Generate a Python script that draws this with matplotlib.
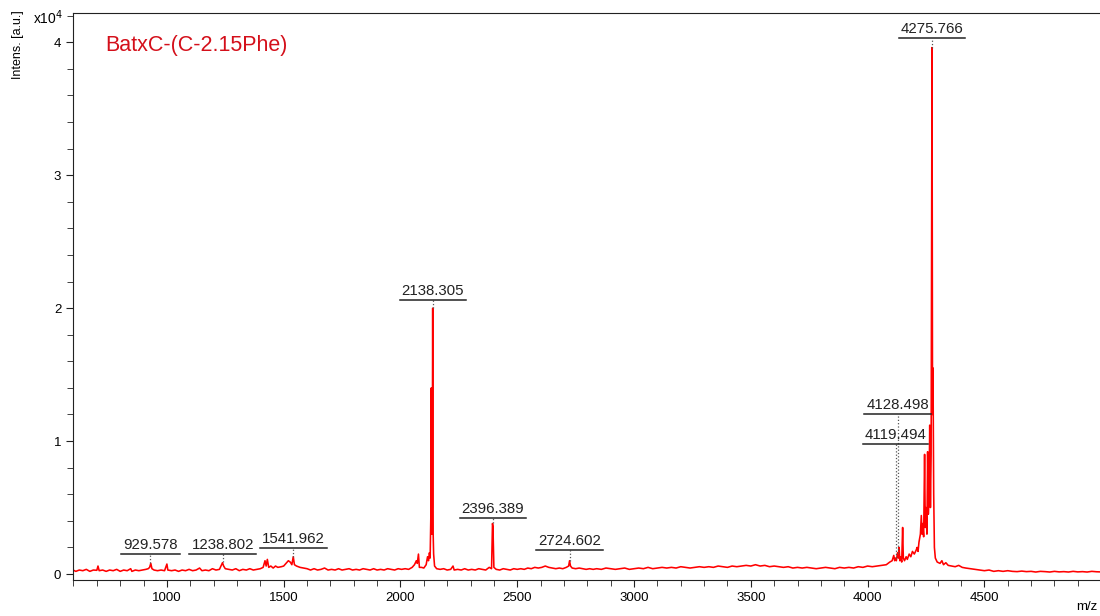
import matplotlib
matplotlib.use("Agg")
import matplotlib.pyplot as plt
from matplotlib.ticker import MultipleLocator

plt.rcParams["font.family"] = ["Liberation Sans", "DejaVu Sans"]

# spectrum trace (m/z, intensity in x10^4 a.u.)
mz = [598, 610, 625, 640, 655, 670, 685, 700, 705, 710, 725, 740, 755, 770, 785, 800,
      815, 830, 845, 850, 865, 880, 895, 910, 920, 926, 931, 936, 945, 960, 975, 990,
      1000, 1004, 1020, 1035, 1050, 1065, 1080, 1095, 1110, 1125, 1140, 1150, 1165, 1180,
      1195, 1210, 1225, 1238, 1243, 1250, 1265, 1280, 1295, 1310, 1325, 1340, 1355, 1370,
      1385, 1400, 1412, 1420, 1425, 1430, 1436, 1445, 1455, 1465, 1475, 1490, 1500, 1510,
      1520, 1528, 1535, 1541, 1546, 1555, 1570, 1585, 1600, 1615, 1630, 1645, 1660, 1675,
      1690, 1705, 1720, 1735, 1750, 1765, 1780, 1795, 1810, 1825, 1840, 1855, 1870, 1885,
      1900, 1915, 1930, 1945, 1960, 1975, 1990, 2005, 2020, 2035, 2050, 2060, 2068, 2072,
      2077, 2081, 2090, 2100, 2110, 2116, 2120, 2124, 2127, 2130, 2132, 2134, 2136, 2138,
      2140, 2142, 2146, 2155, 2170, 2185, 2200, 2215, 2225, 2230, 2245, 2260, 2275, 2290,
      2305, 2320, 2335, 2350, 2365, 2380, 2390, 2394, 2396, 2398, 2400, 2410, 2425, 2440,
      2455, 2470, 2485, 2500, 2515, 2530, 2545, 2560, 2575, 2590, 2605, 2620, 2635, 2650,
      2665, 2680, 2695, 2710, 2720, 2724, 2728, 2735, 2750, 2765, 2780, 2795, 2810, 2825,
      2840, 2860, 2880, 2900, 2920, 2940, 2960, 2980, 3000, 3020, 3040, 3060, 3080, 3100,
      3120, 3140, 3160, 3180, 3200, 3220, 3240, 3260, 3280, 3300, 3320, 3340, 3360, 3380,
      3400, 3420, 3440, 3460, 3480, 3500, 3520, 3540, 3560, 3580, 3600, 3620, 3640, 3660,
      3680, 3700, 3720, 3740, 3760, 3780, 3800, 3820, 3840, 3860, 3880, 3900, 3920, 3940,
      3960, 3980, 4000, 4020, 4040, 4060, 4080, 4095, 4105, 4112, 4116, 4119, 4123, 4128,
      4132, 4135, 4138, 4143, 4146, 4150, 4153, 4158, 4165, 4170, 4178, 4185, 4192, 4200,
      4208, 4212, 4216, 4220, 4226, 4230, 4233, 4236, 4240, 4244, 4247, 4250, 4254, 4257,
      4260, 4263, 4266, 4269, 4272, 4275.8, 4278, 4280, 4283, 4286, 4290, 4298, 4310, 4318,
      4325, 4335, 4345, 4360, 4375, 4390, 4405, 4420, 4440, 4460, 4480, 4500, 4520, 4540,
      4560, 4580, 4600, 4620, 4640, 4660, 4680, 4700, 4720, 4740, 4760, 4780, 4800, 4820,
      4840, 4860, 4880, 4900, 4920, 4940, 4960, 4980, 4995]
intens = [0.03, 0.02, 0.03, 0.025, 0.035, 0.02, 0.03, 0.028, 0.06, 0.025, 0.03, 0.02, 0.03, 0.025, 0.035, 0.02,
          0.03, 0.025, 0.04, 0.02, 0.03, 0.025, 0.03, 0.035, 0.04, 0.05, 0.08, 0.04, 0.03, 0.025, 0.03, 0.025,
          0.075, 0.03, 0.025, 0.03, 0.02, 0.03, 0.025, 0.035, 0.025, 0.03, 0.045, 0.025, 0.03, 0.025,
          0.04, 0.03, 0.035, 0.085, 0.06, 0.04, 0.035, 0.03, 0.04, 0.025, 0.035, 0.03, 0.04, 0.03,
          0.035, 0.04, 0.05, 0.1, 0.06, 0.11, 0.05, 0.06, 0.045, 0.06, 0.05, 0.055, 0.06, 0.08,
          0.1, 0.09, 0.07, 0.13, 0.07, 0.06, 0.05, 0.045, 0.04, 0.03, 0.04, 0.03, 0.035, 0.045,
          0.03, 0.035, 0.03, 0.04, 0.03, 0.035, 0.04, 0.03, 0.035, 0.03, 0.04, 0.035, 0.03, 0.04,
          0.03, 0.035, 0.03, 0.04, 0.035, 0.03, 0.04, 0.035, 0.04, 0.035, 0.05, 0.07, 0.1, 0.08,
          0.15, 0.05, 0.05, 0.045, 0.07, 0.13, 0.1, 0.16, 0.12, 0.43, 1.40, 0.3, 0.5, 2.0,
          0.3, 0.15, 0.06, 0.04, 0.035, 0.04, 0.03, 0.035, 0.06, 0.03, 0.035, 0.03, 0.04, 0.03,
          0.035, 0.03, 0.04, 0.035, 0.03, 0.05, 0.04, 0.38, 0.36, 0.2, 0.05, 0.035, 0.03, 0.04,
          0.035, 0.03, 0.04, 0.035, 0.04, 0.035, 0.045, 0.04, 0.05, 0.045, 0.05, 0.06, 0.05, 0.045,
          0.04, 0.045, 0.04, 0.05, 0.06, 0.1, 0.06, 0.045, 0.04, 0.045, 0.04, 0.035, 0.04, 0.035,
          0.04, 0.035, 0.045, 0.04, 0.035, 0.04, 0.045, 0.035, 0.04, 0.045, 0.04, 0.05, 0.04, 0.045,
          0.05, 0.045, 0.05, 0.045, 0.055, 0.05, 0.045, 0.05, 0.055, 0.05, 0.055, 0.05, 0.06, 0.055,
          0.05, 0.06, 0.055, 0.06, 0.065, 0.06, 0.07, 0.06, 0.065, 0.055, 0.06, 0.055, 0.05, 0.055,
          0.045, 0.05, 0.045, 0.05, 0.045, 0.04, 0.045, 0.05, 0.045, 0.04, 0.05, 0.045, 0.05, 0.045,
          0.055, 0.05, 0.06, 0.055, 0.06, 0.065, 0.07, 0.09, 0.1, 0.14, 0.1, 0.12, 0.1, 0.16,
          0.12, 0.2, 0.1, 0.13, 0.09, 0.35, 0.12, 0.1, 0.13, 0.11, 0.15, 0.13, 0.17, 0.15,
          0.18, 0.2, 0.17, 0.24, 0.3, 0.44, 0.3, 0.38, 0.28, 0.9, 0.35, 0.5, 0.3, 0.92,
          0.45, 0.6, 1.12, 0.5, 0.9, 3.96, 1.2, 1.55, 0.6, 0.2, 0.12, 0.09, 0.08, 0.1,
          0.07, 0.085, 0.065, 0.06, 0.055, 0.065, 0.05, 0.045, 0.04, 0.035, 0.03, 0.025, 0.03, 0.02,
          0.025, 0.02, 0.025, 0.02, 0.018, 0.022, 0.018, 0.02, 0.015, 0.02, 0.018, 0.015, 0.02, 0.016,
          0.018, 0.015, 0.02, 0.016, 0.018, 0.015, 0.02, 0.017, 0.016]

# labelled peaks
peak_mz = [929.578, 1238.802, 1541.962, 2138.305, 2396.389, 2724.602, 4119.494, 4128.498, 4275.766]
peak_top = [0.08, 0.09, 0.13, 2.0, 0.38, 0.1, 0.12, 0.16, 3.96]
label_y = [0.15, 0.15, 0.195, 2.06, 0.42, 0.18, 0.98, 1.20, 4.03]

fig = plt.figure(figsize=(11, 6.16), dpi=100)
ax = fig.add_axes([73 / 1100, 1 - 580 / 616, 1 - 73 / 1100, (580 - 13) / 616])

ax.plot(mz, intens, color="#ff0000", lw=1.15)

ax.set_xlim(598, 4995)
ax.set_ylim(-0.045, 4.22)
ax.xaxis.set_major_locator(MultipleLocator(500))
ax.xaxis.set_minor_locator(MultipleLocator(100))
ax.yaxis.set_major_locator(MultipleLocator(1))
ax.yaxis.set_minor_locator(MultipleLocator(0.2))
ax.tick_params(which="both", direction="out", labelsize=9.5, color="#222")
ax.tick_params(which="major", length=5)
ax.tick_params(which="minor", length=4)
ax.spines["right"].set_visible(False)
for s in ["left", "bottom", "top"]:
    ax.spines[s].set_color("#222")

ax.text(0.031, 0.943, "BatxC-(C-2.15Phe)", transform=ax.transAxes, color="#d40f1a",
        fontsize=15.5, ha="left", va="center")

texts = []
for m, top, lvl in zip(peak_mz, peak_top, label_y):
    ax.plot([m, m], [top, lvl], ls=":", color="#555555", lw=0.9)
    t = ax.annotate(f"{m:.3f}", xy=(m, lvl), xytext=(0, 1.5), textcoords="offset points",
                    ha="center", va="bottom", fontsize=10.8, color="#222")
    texts.append((t, lvl))

# underline each label to the width of its text
fig.canvas.draw()
r = fig.canvas.get_renderer()
inv = ax.transData.inverted()
for t, lvl in texts:
    bb = t.get_window_extent(r)
    x0 = inv.transform((bb.x0 - 2, 0))[0]
    x1 = inv.transform((bb.x1 + 2, 0))[0]
    ax.plot([x0, x1], [lvl, lvl], color="#222", lw=1.1)

fig.text(18 / 1100, 1 - 45 / 616, "Intens. [a.u.]", rotation=90, ha="center", va="center", fontsize=9)
fig.text(33 / 1100, 1 - 18 / 616, "x10$^4$", ha="left", va="center", fontsize=10)
fig.text(1076 / 1100, 1 - 607 / 616, "m/z", ha="left", va="center", fontsize=9.5)

fig.savefig("out.png", dpi=100)
